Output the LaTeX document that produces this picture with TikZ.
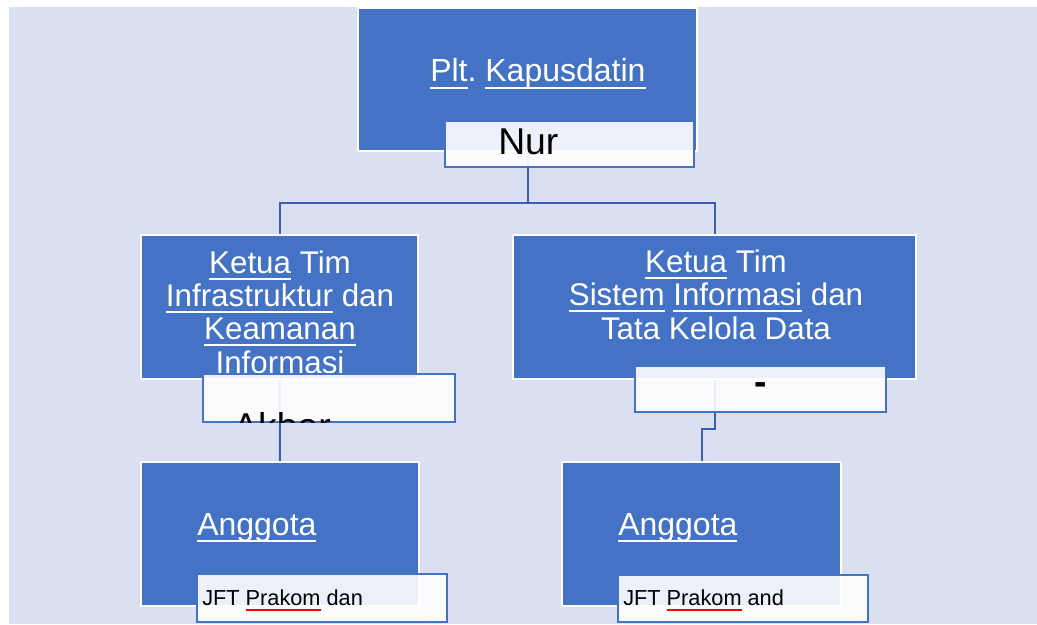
\documentclass[tikz,border=0pt]{standalone}
\usepackage{fontspec}
\setmainfont{Liberation Sans}
\usetikzlibrary{fit}
\definecolor{unitblue}{RGB}{68,114,196}
\definecolor{canvasblue}{RGB}{218,224,242}
\definecolor{linkblue}{RGB}{59,96,178}
\frenchspacing
\newsavebox{\ulbox}
\newcommand{\uln}[1]{\sbox{\ulbox}{#1}\rlap{\rule[-4.9pt]{\wd\ulbox}{1.3pt}}\usebox{\ulbox}}
\newcommand{\redul}[1]{\sbox{\ulbox}{#1}\rlap{\textcolor{red}{\rule[-4.2pt]{\wd\ulbox}{1.5pt}}}\usebox{\ulbox}}
\begin{document}
\begin{tikzpicture}[x=0.75pt,y=-0.75pt]
        \tikzstyle{unit}=[draw=white,line width=1.2pt,fill=unitblue,inner sep=0pt]
        \tikzstyle{holderbox}=[draw=unitblue,line width=1.1pt,fill=white,fill opacity=0.9,text opacity=1,inner sep=0pt]
        \tikzstyle{link}=[draw=linkblue,line width=1.5pt]
        \tikzstyle{title}=[text=white,inner sep=0pt,font=\fontsize{24}{26}\selectfont]
        \tikzstyle{holder}=[text=black,inner sep=0pt,font=\fontsize{28}{30}\selectfont]
        \tikzstyle{jft}=[text=black,inner sep=0pt,font=\fontsize{16.3}{18}\selectfont]
        \useasboundingbox (0,0) rectangle (1037,624);
        \fill[canvasblue] (9,7) rectangle (1037,624);
        \begin{scope}
                \node [unit,fit={(358,8) (697,151)}] (kapus) {};
                \node [unit,fit={(141,235) (418,379)}] (infra) {};
                \node [unit,fit={(513,235) (916,379)}] (sistem) {};
                \node [unit,fit={(141,462) (419,606)}] (anggotaA) {};
                \node [unit,fit={(562,462) (841,606)}] (anggotaB) {};
                \coordinate (split) at (527.5,203);
                \path[link] (kapus.south) -- (split) -| (infra.north);
                \path[link] (split) -| (sistem.north);
                \path[link] (infra.south) -- (anggotaA.north);
                \path[link] (sistem.south) -- ++(0,49) -| (anggotaB.north);
                \node [title,anchor=base west] (kapuslabel) at (430,82) {\uln{Plt}. \uln{Kapusdatin}};
                \node [title,anchor=base,align=center,font=\fontsize{23.5}{25}\selectfont] (infralabel) at (280,373) {\uln{Ketua} Tim\\\uln{Infrastruktur} dan\\\uln{Keamanan}\\Informasi};
                \node [title,anchor=base,align=center,font=\fontsize{23.5}{25}\selectfont] (sistemlabel) at (716,339) {\uln{Ketua} Tim\\\uln{Sistem} \uln{Informasi} dan\\Tata Kelola Data};
                \node [title,anchor=base west] (anggotalabelA) at (197,535) {\uln{Anggota}};
                \node [title,anchor=base west] (anggotalabelB) at (618,535) {\uln{Anggota}};
                \node [holderbox,fit={(445,121) (694,167)}] (nurbox) {};
                \node [holderbox,fit={(203,374) (455,422)}] (akbarbox) {};
                \node [holderbox,fit={(635,366) (886,412)}] (dashbox) {};
                \node [holderbox,fit={(197,574) (447,622)}] (jftboxA) {};
                \node [holderbox,fit={(618,575) (868,622)}] (jftboxB) {};
                \node [holder,anchor=base west] (nurlabel) at (498,154) {Nur};
                \node [holder,anchor=base] (dashlabel) at (761,394) {\textbf{-}};
                \begin{scope}
                        \clip (akbarbox.south west) rectangle (akbarbox.north east);
                        \node [holder,anchor=base west] (akbarlabel) at (233,439) {Akbar};
                \end{scope}
                \node [jft,anchor=base west] (jftlabelA) at (202,605) {JFT \redul{Prakom} dan};
                \node [jft,anchor=base west] (jftlabelB) at (623,605) {JFT \redul{Prakom} and};
        \end{scope}
\end{tikzpicture}
\end{document}
